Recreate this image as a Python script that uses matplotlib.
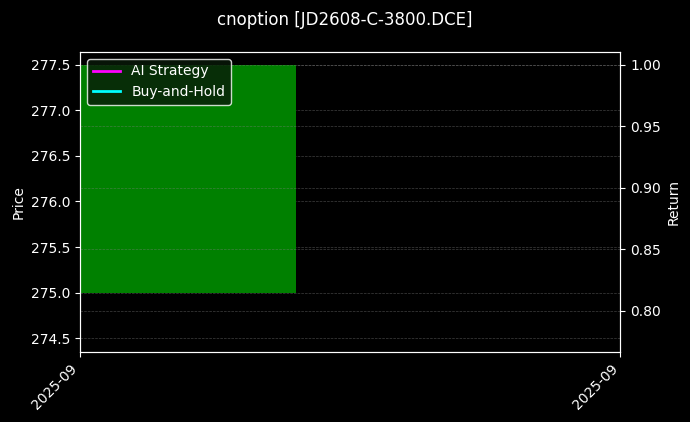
import matplotlib
matplotlib.use("Agg")
import matplotlib.pyplot as plt
import matplotlib.dates as mdates
import pandas as pd

# data (single bar)
dates = pd.to_datetime(["2025-09-15"])
opens = [275.0]
closes = [277.5]
strategy = [1.0]
buy_hold = [1.0]

plt.style.use("dark_background")
fig = plt.figure(figsize=(6.9, 4.22), dpi=100)
fig.patch.set_facecolor("black")
ax = fig.add_axes([0.116, 0.166, 0.783, 0.711])
ax.set_facecolor("black")

x = mdates.date2num(dates)
heights = [c - o for o, c in zip(opens, closes)]
ax.bar(x, heights, bottom=opens, width=0.8, color="green", zorder=2)

ax.set_ylim(274.35, 277.64)
ax.set_ylabel("Price", color="white")
ax.grid(axis="y", color="gray", linestyle="--", linewidth=0.5, alpha=0.5)

ax2 = ax.twinx()
l1, = ax2.plot(x, strategy, color="magenta", linewidth=2, label="AI Strategy")
l2, = ax2.plot(x, buy_hold, color="cyan", linewidth=2, label="Buy-and-Hold")
ax2.set_ylim(0.7667, 1.0106)
ax2.set_yticks([0.80, 0.85, 0.90, 0.95, 1.00])
ax2.set_ylabel("Return", color="white")
ax2.grid(axis="y", color="gray", linestyle="--", linewidth=0.5, alpha=0.5)

left = x[0] - 0.4
right = left + 0.8 / 0.4
ax.set_xlim(left, right)
ax.set_xticks([left, right])
ax.xaxis.set_major_formatter(mdates.DateFormatter("%Y-%m"))
for lab in ax.get_xticklabels():
    lab.set_rotation(45)
    lab.set_ha("right")

leg = ax2.legend(handles=[l1, l2], loc="upper left", facecolor="#0a1a0a",
                 edgecolor="white", framealpha=0.8)

fig.suptitle("cnoption [JD2608-C-3800.DCE]", color="white", y=0.975)
fig.savefig("out.png", dpi=100, facecolor="black")
